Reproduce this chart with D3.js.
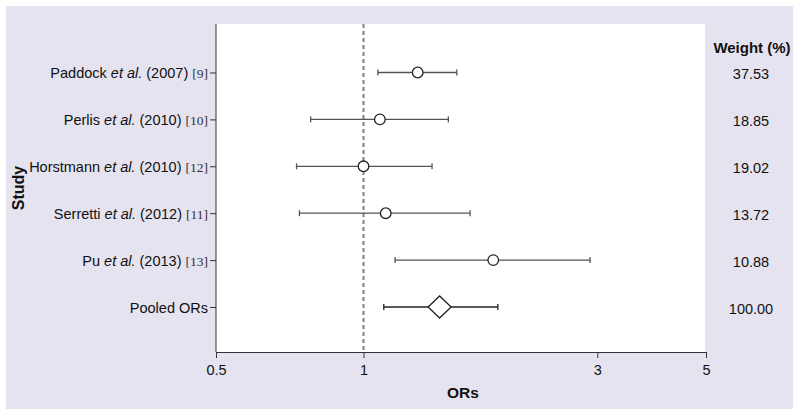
<!DOCTYPE html>
<html>
<head>
<meta charset="utf-8">
<script src="https://cdn.jsdelivr.net/npm/d3@7/dist/d3.min.js"></script>
<style>
  html, body { margin: 0; padding: 0; background: #fff; }
  svg { display: block; }
  text { font-family: "Liberation Sans", Arial, Helvetica, sans-serif; }
</style>
</head>
<body>
<svg id="chart" width="800" height="415"></svg>
<script>
// ---- data ----
const studyNames = ["Paddock", "Perlis", "Horstmann", "Serretti", "Pu", "Pooled ORs"];
const studyYears = ["2007", "2010", "2010", "2012", "2013", ""];
const studyRefs  = ["9", "10", "12", "11", "13", ""];
const orValues   = [1.29, 1.08, 1.00, 1.11, 1.84, 1.43];
const ciLower    = [1.07, 0.78, 0.73, 0.74, 1.16, 1.10];
const ciUpper    = [1.55, 1.49, 1.38, 1.65, 2.90, 1.88];
const weights    = ["37.53", "18.85", "19.02", "13.72", "10.88", "100.00"];
const xTicks     = [0.5, 1, 3, 5];

const rows = studyNames.map((n, i) => ({
  name: n, year: studyYears[i], ref: studyRefs[i],
  or: orValues[i], lo: ciLower[i], hi: ciUpper[i], w: weights[i],
  pooled: i === studyNames.length - 1, key: "r" + i
}));

const FS = 14.5;
const svg = d3.select("#chart");

// background panel
svg.append("rect").attr("x", 6).attr("y", 6).attr("width", 787).attr("height", 403)
  .attr("fill", "#e6e3f0");

const plot = { left: 216, right: 706, top: 24, bottom: 352 };

svg.append("rect").attr("x", plot.left).attr("y", plot.top)
  .attr("width", plot.right - plot.left - 1).attr("height", plot.bottom - plot.top)
  .attr("fill", "#fff");

const x = d3.scaleLog().domain([0.5, 5]).range([plot.left, plot.right]);
const y = d3.scalePoint().domain(rows.map(d => d.key)).range([72.5, 307]);

// x axis
const xAxis = svg.append("g").attr("transform", `translate(0,${plot.bottom})`)
  .call(d3.axisBottom(x).tickValues(xTicks).tickFormat(d3.format("")).tickSizeOuter(0).tickSize(6));
xAxis.select(".domain").attr("stroke", "#333");
xAxis.selectAll(".tick line").attr("stroke", "#333");
xAxis.selectAll(".tick text").attr("font-size", FS).attr("fill", "#111").attr("dy", "0.95em")
  .style("font-family", "'Liberation Sans', Arial, sans-serif");

// y axis
const yAxis = svg.append("g").attr("transform", `translate(${plot.left},0)`)
  .call(d3.axisLeft(y).tickSize(6).tickSizeOuter(0).tickFormat(() => ""));
yAxis.select(".domain").attr("d", `M0,${plot.top}V${plot.bottom}`).attr("stroke", "#333");
yAxis.selectAll(".tick line").attr("stroke", "#333");

// y tick labels with italic et al. and serif refs
yAxis.selectAll(".tick").each(function(k) {
  const d = rows.find(r => r.key === k);
  const t = d3.select(this).select("text")
    .attr("x", -8).attr("dy", "0.35em").attr("text-anchor", "end")
    .attr("font-size", FS).attr("fill", "#111")
    .style("font-family", "'Liberation Sans', Arial, sans-serif");
  t.text(null);
  if (d.pooled) {
    t.append("tspan").text(d.name);
  } else {
    t.append("tspan").text(d.name + " ");
    t.append("tspan").attr("font-style", "italic").text("et al.");
    t.append("tspan").text(" (" + d.year + ") ");
    t.append("tspan").attr("font-size", 13.5)
      .style("font-family", "'Liberation Serif', 'Times New Roman', serif")
      .attr("fill", "#333").text("[" + d.ref + "]");
  }
});

// reference line at OR = 1
svg.append("line").attr("x1", x(1)).attr("x2", x(1))
  .attr("y1", plot.top).attr("y2", plot.bottom)
  .attr("stroke", "#808080").attr("stroke-width", 2).attr("stroke-dasharray", "4,3");

// CI lines
const g = svg.append("g");
const cap = 3;
rows.forEach(d => {
  const yy = y(d.key);
  const col = d.pooled ? "#222" : "#555";
  g.append("line").attr("x1", x(d.lo)).attr("x2", x(d.hi)).attr("y1", yy).attr("y2", yy)
    .attr("stroke", col).attr("stroke-width", 1.3);
  g.append("line").attr("x1", x(d.lo)).attr("x2", x(d.lo)).attr("y1", yy - cap).attr("y2", yy + cap)
    .attr("stroke", col).attr("stroke-width", 1.3);
  g.append("line").attr("x1", x(d.hi)).attr("x2", x(d.hi)).attr("y1", yy - cap).attr("y2", yy + cap)
    .attr("stroke", col).attr("stroke-width", 1.3);
  if (d.pooled) {
    const cx = x(d.or), w = 11.5, h = 11;
    g.append("path")
      .attr("d", `M${cx - w},${yy}L${cx},${yy - h}L${cx + w},${yy}L${cx},${yy + h}Z`)
      .attr("fill", "#fff").attr("stroke", "#222").attr("stroke-width", 1.3);
  } else {
    g.append("circle").attr("cx", x(d.or)).attr("cy", yy).attr("r", 5.3)
      .attr("fill", "#fff").attr("stroke", "#222").attr("stroke-width", 1.3);
  }
});

// weight column
svg.append("text").attr("x", 752).attr("y", 48).attr("dy", "0.35em")
  .attr("text-anchor", "middle").attr("font-size", 15).attr("font-weight", "bold")
  .attr("fill", "#111").text("Weight (%)");
svg.selectAll(".wt").data(rows).enter().append("text")
  .attr("class", "wt")
  .attr("x", 751).attr("y", d => y(d.key) + 1.5).attr("dy", "0.35em")
  .attr("text-anchor", "middle").attr("font-size", FS).attr("fill", "#111")
  .text(d => d.w);

// axis titles
svg.append("text").attr("x", (plot.left + plot.right) / 2 + 2).attr("y", 393).attr("dy", "0.35em")
  .attr("text-anchor", "middle").attr("font-size", 15.5).attr("font-weight", "bold")
  .attr("fill", "#111").text("ORs");
svg.append("text").attr("transform", `translate(18,${(plot.top + plot.bottom) / 2}) rotate(-90)`)
  .attr("dy", "0.35em").attr("text-anchor", "middle").attr("font-size", 16)
  .attr("font-weight", "bold").attr("fill", "#111").text("Study");
</script>
</body>
</html>
